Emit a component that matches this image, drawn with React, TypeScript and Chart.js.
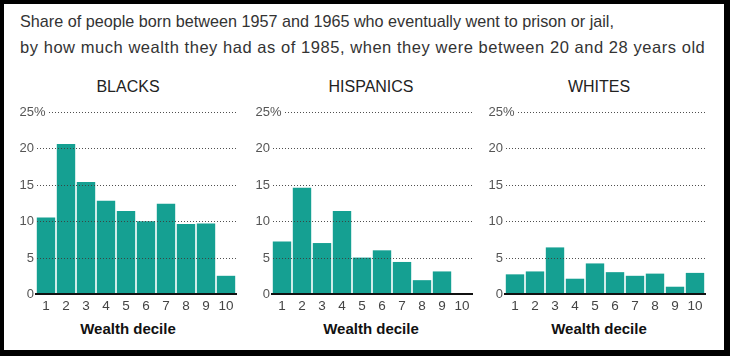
import React, { useEffect, useRef } from "react";
import { Chart, registerables } from "chart.js";

Chart.register(...registerables);

const titleLine1 = "Share of people born between 1957 and 1965 who eventually went to prison or jail,";
const titleLine2 = "by how much wealth they had as of 1985, when they were between 20 and 28 years old";
const panelNames = ["BLACKS", "HISPANICS", "WHITES"];
const xAxisTitle = "Wealth decile";
const deciles = ["1", "2", "3", "4", "5", "6", "7", "8", "9", "10"];
const blacks = [10.5, 20.6, 15.4, 12.8, 11.4, 10.0, 12.4, 9.6, 9.7, 2.5];
const hispanics = [7.2, 14.6, 7.0, 11.4, 5.0, 6.0, 4.4, 1.9, 3.1, 0];
const whites = [2.7, 3.1, 6.4, 2.1, 4.2, 3.0, 2.5, 2.8, 1.0, 2.9];
const yTickValues = [0, 5, 10, 15, 20, 25];
const yTickLabels = ["0", "5", "10", "15", "20", "25%"];

const FAMILY = '"Liberation Sans", Arial, sans-serif';
const BAR = "#15a092";

const gridPlugin = {
  id: "dottedGrid",
  afterDatasetsDraw(chart: any) {
    const ctx = chart.ctx as CanvasRenderingContext2D;
    const y = chart.scales.y;
    const area = chart.chartArea;
    ctx.save();
    ctx.font = `13px ${FAMILY}`;
    ctx.textBaseline = "middle";
    yTickValues.forEach((v, i) => {
      const label = yTickLabels[i];
      const py = Math.round(y.getPixelForValue(v));
      const numRight = area.left - 2;
      const numPart = label.replace("%", "");
      const numW = ctx.measureText(numPart).width;
      const fullW = ctx.measureText(label).width;
      const startX = numRight - numW;
      ctx.fillStyle = "#555";
      ctx.textAlign = "left";
      ctx.fillText(label, startX, py + 0.5);
      const labelEnd = startX + fullW;
      if (v === 0) {
        ctx.fillStyle = "#111";
        ctx.fillRect(area.left - 1, py - 1, area.right - area.left + 2, 2);
      } else {
        ctx.fillStyle = "rgba(60,60,60,0.9)";
        let x = Math.max(area.left, labelEnd + 3);
        for (; x <= area.right; x += 3) {
          ctx.fillRect(Math.round(x), py, 1, 1);
        }
      }
    });
    ctx.restore();
  },
};

function Panel(props: { values: number[]; left: number; width: number; yWidth: number; padRight: number }) {
  const ref = useRef<HTMLCanvasElement>(null);
  useEffect(() => {
    const chart = new Chart(ref.current as HTMLCanvasElement, {
      type: "bar",
      data: {
        labels: deciles,
        datasets: [
          {
            data: props.values,
            backgroundColor: BAR,
            borderWidth: 0,
            barPercentage: 0.92,
            categoryPercentage: 1,
          },
        ],
      },
      options: {
        animation: false,
        responsive: false,
        maintainAspectRatio: false,
        layout: { padding: { top: 12, right: props.padRight, left: 0, bottom: 0 } },
        plugins: {
          legend: { display: false },
          tooltip: { enabled: false },
          title: { display: false },
        },
        scales: {
          x: {
            grid: { display: false, drawTicks: false },
            border: { display: false },
            ticks: { color: "#444", font: { size: 13.5, family: FAMILY }, padding: 4, maxRotation: 0 },
            afterFit: (s: any) => {
              s.height = 21;
            },
          },
          y: {
            min: 0,
            max: 25,
            ticks: { stepSize: 5, display: false },
            grid: { display: false },
            border: { display: false },
            afterFit: (s: any) => {
              s.width = props.yWidth;
            },
          },
        },
      },
      plugins: [gridPlugin],
    } as any);
    return () => chart.destroy();
  }, []);
  return (
    <canvas
      ref={ref}
      width={props.width}
      height={215}
      style={{ position: "absolute", left: props.left, top: 100, width: props.width, height: 215 }}
    />
  );
}

const panelLayout = [
  { values: blacks, left: 4, width: 238, yWidth: 32, padRight: 6, center: 128 },
  { values: hispanics, left: 242, width: 238, yWidth: 30, padRight: 8, center: 371 },
  { values: whites, left: 480, width: 240, yWidth: 25, padRight: 15, center: 599 },
];

export default function App() {
  return (
    <div style={{ position: "absolute", left: 0, top: 0, width: 730, height: 356, background: "#000" }}>
      <div
        style={{
          position: "absolute",
          left: 4,
          top: 4,
          width: 720,
          height: 346,
          background: "#fff",
          fontFamily: FAMILY,
        }}
      >
        <div
          style={{
            position: "absolute",
            left: 16,
            top: 4,
            fontSize: 16.5,
            lineHeight: "26px",
            color: "#333",
            whiteSpace: "nowrap",
          }}
        >
          <div style={{ fontSize: 16.2 }}>{titleLine1}</div>
          <div style={{ letterSpacing: "0.55px" }}>{titleLine2}</div>
        </div>
      </div>
      {panelLayout.map((p, i) => (
        <React.Fragment key={i}>
          <div
            style={{
              position: "absolute",
              left: p.center - 80,
              width: 160,
              top: 77,
              textAlign: "center",
              fontFamily: FAMILY,
              fontSize: 16,
              lineHeight: "20px",
              color: "#222",
            }}
          >
            {panelNames[i]}
          </div>
          <Panel values={p.values} left={p.left} width={p.width} yWidth={p.yWidth} padRight={p.padRight} />
          <div
            style={{
              position: "absolute",
              left: p.center - 80,
              width: 160,
              top: 319,
              textAlign: "center",
              fontFamily: FAMILY,
              fontSize: 15,
              fontWeight: "bold",
              lineHeight: "20px",
              color: "#111",
            }}
          >
            {xAxisTitle}
          </div>
        </React.Fragment>
      ))}
    </div>
  );
}
